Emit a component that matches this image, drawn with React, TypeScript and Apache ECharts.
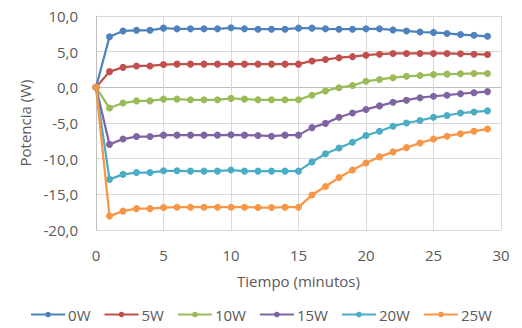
import React, { useEffect, useRef } from "react";
import * as echarts from "echarts";

const minutes = [0,1,2,3,4,5,6,7,8,9,10,11,12,13,14,15,16,17,18,19,20,21,22,23,24,25,26,27,28,29];
const seriesNames = ["0W", "5W", "10W", "15W", "20W", "25W"];
const colors = ["#4F81BD", "#C0504D", "#9BBB59", "#8064A2", "#4BACC6", "#F79646"];

const w0 = [0, 7.1, 7.9, 8.0, 8.0, 8.3, 8.2, 8.2, 8.2, 8.2, 8.35, 8.2, 8.15, 8.15, 8.15, 8.3, 8.3, 8.2, 8.15, 8.15, 8.2, 8.2, 8.05, 7.9, 7.75, 7.7, 7.55, 7.4, 7.3, 7.15];
const w5 = [0, 2.2, 2.8, 3.0, 3.0, 3.2, 3.25, 3.25, 3.25, 3.25, 3.25, 3.25, 3.25, 3.25, 3.25, 3.25, 3.7, 3.9, 4.15, 4.3, 4.5, 4.65, 4.75, 4.75, 4.75, 4.75, 4.75, 4.7, 4.65, 4.6];
const w10 = [0, -2.9, -2.2, -1.9, -1.9, -1.65, -1.65, -1.75, -1.75, -1.75, -1.55, -1.65, -1.75, -1.75, -1.75, -1.75, -1.1, -0.5, -0.05, 0.25, 0.85, 1.1, 1.35, 1.55, 1.65, 1.8, 1.85, 1.9, 1.95, 1.95];
const w15 = [0, -8.0, -7.25, -6.9, -6.9, -6.7, -6.7, -6.7, -6.7, -6.7, -6.65, -6.7, -6.75, -6.85, -6.7, -6.7, -5.65, -5.05, -4.2, -3.6, -3.1, -2.6, -2.1, -1.8, -1.45, -1.25, -1.1, -0.9, -0.75, -0.6];
const w20 = [0, -12.9, -12.2, -11.95, -11.95, -11.7, -11.7, -11.75, -11.75, -11.75, -11.6, -11.75, -11.75, -11.75, -11.75, -11.75, -10.45, -9.3, -8.5, -7.7, -6.75, -6.15, -5.45, -5.0, -4.65, -4.2, -3.95, -3.6, -3.45, -3.3];
const w25 = [0, -18.05, -17.35, -17.0, -17.0, -16.85, -16.8, -16.8, -16.8, -16.8, -16.8, -16.8, -16.85, -16.85, -16.8, -16.8, -15.1, -13.9, -12.65, -11.6, -10.6, -9.75, -9.05, -8.45, -7.8, -7.25, -6.85, -6.5, -6.15, -5.85];
const allValues = [w0, w5, w10, w15, w20, w25];

const xTicks = { min: 0, max: 30, interval: 5 };
const yTicks = { min: -20, max: 10, interval: 5 };

const textColor = "#595959";
const fontFamily = "'Open Sans', 'Noto Sans', sans-serif";
const fs = 15;

export default function App() {
  const ref = useRef<HTMLDivElement>(null);
  useEffect(() => {
    if (!ref.current) return;
    const chart = echarts.init(ref.current, undefined, { renderer: "svg" });
    const gridColors = ["#D9D9D9", "#D9D9D9", "#D9D9D9", "#D9D9D9", "#BFBFBF", "#D9D9D9", "#D9D9D9"];
    chart.setOption({
      animation: false,
      textStyle: { fontFamily, color: textColor },
      grid: { left: 96, right: 21, top: 16, bottom: 98, containLabel: false },
      legend: {
        bottom: 1,
        left: "center",
        itemWidth: 34,
        itemHeight: 7,
        itemGap: 13,
        textStyle: { fontSize: fs, color: textColor, fontFamily, padding: [0, 0, 0, -2] },
        data: seriesNames,
      },
      xAxis: {
        type: "value",
        min: xTicks.min,
        max: xTicks.max,
        interval: xTicks.interval,
        name: "Tiempo (minutos)",
        nameLocation: "middle",
        nameGap: 43,
        nameTextStyle: { fontSize: fs, color: textColor, fontFamily },
        axisLine: { show: false },
        axisTick: { show: false },
        axisLabel: { fontSize: fs, color: textColor, margin: 17, fontFamily },
        splitLine: { show: true, lineStyle: { color: "#D9D9D9", width: 1 } },
      },
      yAxis: {
        type: "value",
        min: yTicks.min,
        max: yTicks.max,
        interval: yTicks.interval,
        name: "Potencia (W)",
        nameLocation: "middle",
        nameGap: 64,
        nameRotate: 90,
        nameTextStyle: { fontSize: fs, color: textColor, fontFamily },
        axisLine: { show: true, lineStyle: { color: "#BFBFBF", width: 1 } },
        axisTick: { show: false },
        axisLabel: {
          fontSize: fs,
          color: textColor,
          margin: 18,
          fontFamily,
          formatter: (v: number) => v.toFixed(1).replace(".", ","),
        },
        splitLine: { show: true, lineStyle: { color: gridColors, width: 1 } },
      },
      series: seriesNames.map((name, i) => ({
        name,
        type: "line",
        data: minutes.map((m, j) => [m, allValues[i][j]]),
        symbol: "circle",
        symbolSize: 7,
        showSymbol: true,
        itemStyle: { color: colors[i] },
        lineStyle: { color: colors[i], width: 2.25 },
        z: 2 + i,
      })),
    });
    return () => chart.dispose();
  }, []);
  return <div ref={ref} style={{ width: 522, height: 328, position: "absolute", left: 0, top: 0 }} />;
}
